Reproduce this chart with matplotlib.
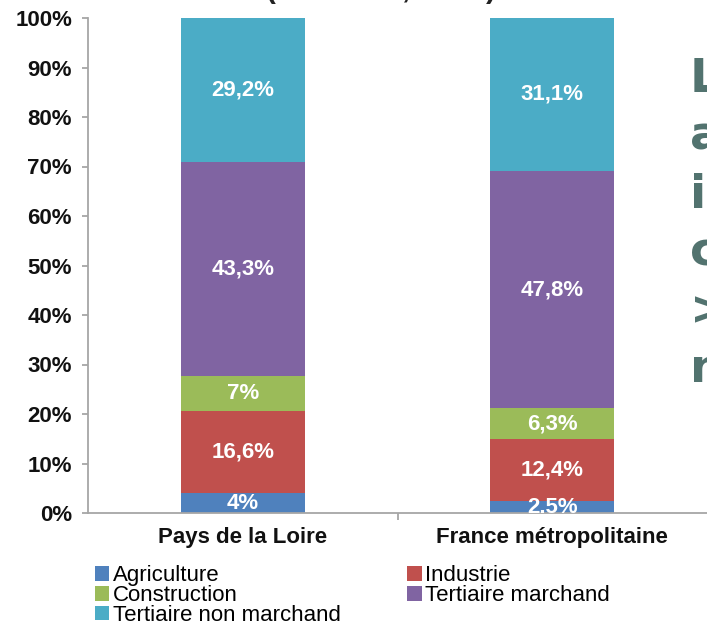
import numpy as np
import matplotlib
matplotlib.use("Agg")
import matplotlib.pyplot as plt

# categories and shares (%)
regions = ['Pays de la Loire', 'France métropolitaine']
sectors = ['Agriculture', 'Industrie', 'Construction', 'Tertiaire marchand', 'Tertiaire non marchand']
agriculture = [4, 2.5]
industrie = [16.6, 12.4]
construction = [7, 6.3]
tertiaire_marchand = [43.3, 47.8]
tertiaire_non_marchand = [29.2, 31.1]
colors = ['#4f81bd', '#c0504d', '#9bbb59', '#8064a2', '#4bacc6']

series = [agriculture, industrie, construction, tertiaire_marchand, tertiaire_non_marchand]

plt.rcParams['font.family'] = ['Liberation Sans', 'DejaVu Sans']

W, H = 707, 622
fig = plt.figure(figsize=(W / 100, H / 100), dpi=100)
ax = fig.add_axes([88 / W, 1 - 513 / H, 1 - 88 / W, (513 - 18) / H])

x = np.arange(len(regions))
bottom = np.zeros(len(regions))
bars = []
for name, vals, col in zip(sectors, series, colors):
    b = ax.bar(x, vals, width=0.4, bottom=bottom, color=col, label=name, zorder=2)
    bars.append(b)
    for xi, v, b0 in zip(x, vals, bottom):
        lab = f"{v:g}".replace('.', ',') + '%'
        ax.text(xi, b0 + v / 2, lab, ha='center', va='center', color='white',
                fontsize=16, fontweight='bold', clip_on=True, zorder=3)
    bottom = bottom + np.array(vals)

ax.set_xlim(-0.5, 1.5)
ax.set_ylim(0, 100)
ax.set_yticks(np.arange(0, 101, 10))
ax.set_yticklabels([f"{t}%" for t in range(0, 101, 10)], fontweight='bold')
ax.set_xticks(x)
ax.set_xticklabels(regions, fontsize=16, fontweight='bold')
ax.set_xticks([0.5], minor=True)

for s in ['top', 'right']:
    ax.spines[s].set_visible(False)
for s in ['left', 'bottom']:
    ax.spines[s].set_color('#a6a6a6')
    ax.spines[s].set_linewidth(1.3)

ax.tick_params(axis='y', length=4.5, width=1.3, color='#a6a6a6', pad=7,
               labelsize=16, labelcolor='#111111')
ax.tick_params(axis='x', which='major', length=0, pad=10, labelcolor='#111111')
ax.tick_params(axis='x', which='minor', length=5, width=1.3, color='#a6a6a6')

# legend in row order: Agriculture, Industrie / Construction, Tertiaire marchand / Tertiaire non marchand
order = [0, 2, 4, 1, 3]
handles = [bars[i] for i in order]
labels = [sectors[i] for i in order]
fig.legend(handles, labels, loc='upper left', bbox_to_anchor=(95 / W, 1 - 565 / H),
           ncol=2, frameon=False, fontsize=16, handlelength=0.65, handleheight=0.65,
           handletextpad=0.15, labelspacing=-0.05, columnspacing=3.0,
           borderpad=0, borderaxespad=0)

# cut-off title at top
fig.text(266 / W, 1 + 2 / H, "(structure, en %)", fontsize=21, fontweight='bold',
         color='#222222', ha='left', va='baseline')

# cut-off commentary on the right
side = ['L', 'a', 'in', 'c', '>', 'n']
for i, t in enumerate(side):
    fig.text(690 / W, 1 - (92 + 58 * i) / H, t, fontsize=34, fontweight='bold',
             family='DejaVu Sans', color='#52736f', ha='left', va='baseline')

fig.savefig('out.png', dpi=100)
